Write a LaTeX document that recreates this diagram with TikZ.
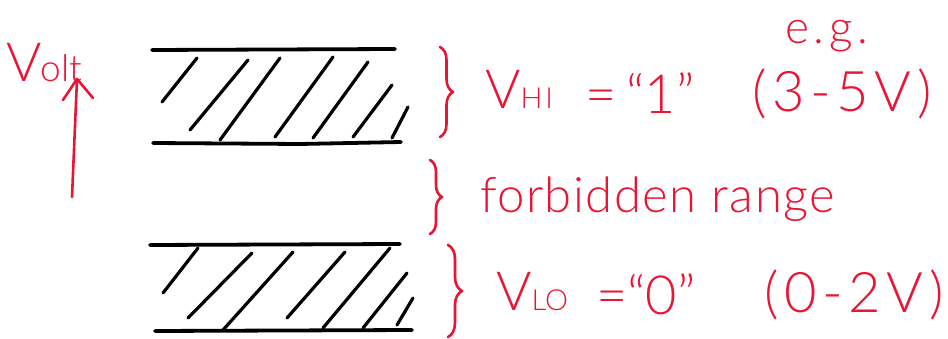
\documentclass[tikz,border=0pt]{standalone}
\usepackage{fontspec}
\setmainfont{Lato Light}
\usetikzlibrary{arrows.meta,decorations.pathreplacing}
\definecolor{penred}{RGB}{234,20,52}
\begin{document}
\begin{tikzpicture}[x=1pt,y=-1pt, line cap=round, line join=round,
  band/.style={line width=3.8pt, black},
  hatch/.style={line width=3.2pt, black},
  pen/.style={line width=2.6pt, draw=penred},
  lbl/.style={text=penred, inner sep=0pt, anchor=base west},
  brc/.style={pen, decorate, decoration={brace, amplitude=#1}}]
\useasboundingbox[fill=white] (0,0) rectangle (948,339);

% ---- top band (V_HI)
\draw[band] (152,50) -- (395,49);
\draw[band] (153,143) -- (300,144) -- (401,142);
\draw[hatch] (162,102) -- (197,58);
\draw[hatch] (190,130) -- (248,60);
\draw[hatch] (220,140) -- (280,58);
\draw[hatch] (275,137) -- (333,57);
\draw[hatch] (313,138) -- (368,62);
\draw[hatch] (353,137) -- (392,85);
\draw[hatch] (392,138) -- (408,107);

% ---- bottom band (V_LO)
\draw[band] (150,245) -- (400,244);
\draw[band] (155,331) -- (412,330);
\draw[hatch] (163,293) -- (198,248);
\draw[hatch] (188,318) -- (252,253);
\draw[hatch] (223,330) -- (293,252);
\draw[hatch] (287,318) -- (345,252);
\draw[hatch] (323,328) -- (390,248);
\draw[hatch] (363,328) -- (407,273);
\draw[hatch] (397,325) -- (413,298);

% ---- voltage arrow
\coordinate (arrS) at (72,197);
\coordinate (arrE) at (77,79);
\coordinate (arrL) at (63,100);
\coordinate (arrR) at (93,98);
\draw[pen] (arrS) -- (arrE);
\draw[pen] (arrL) -- (arrE) -- (arrR);
\node[lbl, font=\fontsize{54}{56}\selectfont] (volt) at (6,82)
  {V\kern-1pt\fontsize{37}{38}\selectfont olt};

% ---- braces
\coordinate (b1t) at (440,47);  \coordinate (b1b) at (440,137);
\coordinate (b2t) at (430,160); \coordinate (b2b) at (430,234);
\coordinate (b3t) at (448,245); \coordinate (b3b) at (448,337);
\draw[brc=13pt] (b1t) -- (b1b);
\draw[brc=12pt] (b2t) -- (b2b);
\draw[brc=14pt] (b3t) -- (b3b);

% ---- labels
\node[lbl, font=\fontsize{54}{56}\selectfont] (vhi) at (485,109)
  {V\fontsize{29}{30}\selectfont H\kern3pt I};
\node[lbl, font=\fontsize{54}{56}\selectfont] (eqA) at (585,114) {=\kern10pt“1”};
\node[lbl, font=\fontsize{56}{58}\selectfont\addfontfeature{LetterSpace=10}] (rngA) at (752,112) {(3-5V)};
\node[lbl, font=\fontsize{46}{48}\selectfont\addfontfeature{LetterSpace=10}] (eg) at (785,44) {e.g.};
\node[lbl, font=\fontsize{49}{52}\selectfont\addfontfeature{LetterSpace=3}] (forb) at (480,213) {forbidden range};
\node[lbl, font=\fontsize{54}{56}\selectfont] (vlo) at (496,310)
  {V\fontsize{29}{30}\selectfont LO};
\node[lbl, font=\fontsize{54}{56}\selectfont] (eqB) at (596,314) {=“0”};
\node[lbl, font=\fontsize{56}{58}\selectfont\addfontfeature{LetterSpace=10}] (rngB) at (764,312) {(0-2V)};
\end{tikzpicture}
\end{document}
